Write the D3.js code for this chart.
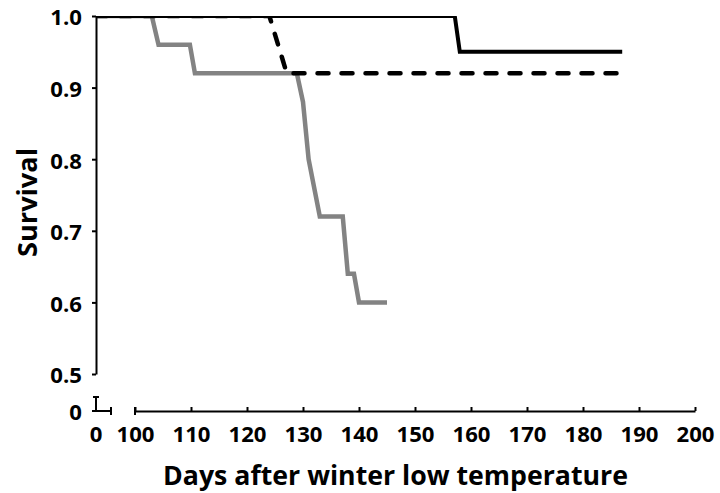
<!DOCTYPE html>
<html lang="en">
  <head>
    <meta charset="UTF-8">
    <script type="text/javascript" src="https://cdn.jsdelivr.net/npm/d3@7"></script>
    <style>
      body { margin: 0; background: #fff; }
      .axis path, .axis line { stroke: #000; stroke-width: 2; }
      .axis text {
        font-family: 'Open Sans', sans-serif;
        font-weight: bold;
        font-size: 20.5px;
        fill: #000;
      }
      .title {
        font-family: 'Open Sans', sans-serif;
        font-weight: bold;
        fill: #000;
      }
    </style>
  </head>
  <body>
    <script type="text/javascript">
      let w = 720;
      let h = 493;

      // Kaplan-Meier style curves: [day, survival]
      let grayDays   = [0, 103, 104.2, 109.8, 110.7, 128.9, 130, 131, 133, 137.1, 138, 139.1, 140, 145];
      let grayVals   = [1, 1, 0.96, 0.96, 0.92, 0.92, 0.88, 0.80, 0.72, 0.72, 0.64, 0.64, 0.60, 0.60];
      let dashDays   = [0, 124, 127.1, 188];
      let dashVals   = [1, 1, 0.92, 0.92];
      let solidDays  = [0, 157.1, 158, 187];
      let solidVals  = [1, 1, 0.95, 0.95];

      let xTicks = [100, 110, 120, 130, 140, 150, 160, 170, 180, 190, 200];
      let yTicks = [0.5, 0.6, 0.7, 0.8, 0.9, 1.0];

      let svg = d3.select('body').append('svg')
                  .attr('width', w)
                  .attr('height', h);

      // main (broken) axes
      let xScale = d3.scaleLinear().domain([100, 200]).range([135, 695]);
      let yScale = d3.scaleLinear().domain([0.5, 1]).range([374, 16]);
      // series scale runs across the break, 0 sits at the axis origin
      let xLine = d3.scaleLinear().domain([0, 100, 200]).range([96, 135, 695]);

      let x0 = 96, yZero = 411;

      // series, clipped to the plot top so the 1.0 lines are half hidden
      svg.append('clipPath').attr('id', 'plot')
        .append('rect').attr('x', 96).attr('y', 16).attr('width', 620).attr('height', 400);

      let line = d3.line().x(d => xLine(d[0])).y(d => yScale(d[1]));
      let zip = (a, b) => a.map((d, i) => [d, b[i]]);

      let g = svg.append('g').attr('clip-path', 'url(#plot)');
      g.append('path').datum(zip(grayDays, grayVals))
        .attr('d', line).attr('fill', 'none')
        .attr('stroke', '#838383').attr('stroke-width', 4.5);
      g.append('path').datum(zip(dashDays, dashVals))
        .attr('d', line).attr('fill', 'none')
        .attr('stroke', '#000').attr('stroke-width', 4.5)
        .attr('stroke-dasharray', '11,13').attr('stroke-linecap', 'round');
      g.append('path').datum(zip(solidDays, solidVals))
        .attr('d', line).attr('fill', 'none')
        .attr('stroke', '#000').attr('stroke-width', 4);

      // x axis, main part
      let xAxis = d3.axisBottom(xScale).tickValues(xTicks)
                    .tickSizeInner(-4).tickSizeOuter(0).tickPadding(16);
      let gx = svg.append('g').attr('class', 'x axis')
                  .attr('transform', 'translate(0,' + yZero + ')')
                  .call(xAxis);
      gx.selectAll('.tick line').attr('y2', -4);
      gx.append('line').attr('x1', 135).attr('x2', 135).attr('y1', -4).attr('y2', 4);

      // y axis, main part
      let yAxis = d3.axisLeft(yScale).tickValues(yTicks)
                    .tickFormat(d3.format('.1f')).tickSizeInner(4).tickSizeOuter(0).tickPadding(10);
      let gy = svg.append('g').attr('class', 'y axis')
          .attr('transform', 'translate(' + x0 + ',0)')
          .call(yAxis);
      gy.selectAll('.tick text').attr('dy', '0.43em');

      // short stubs either side of the break, holding the 0 ticks
      let stub = svg.append('g').attr('class', 'axis');
      stub.append('line').attr('x1', x0).attr('x2', x0).attr('y1', 397).attr('y2', yZero + 1);
      stub.append('line').attr('x1', x0 - 3).attr('x2', x0 + 3).attr('y1', 397).attr('y2', 397);
      stub.append('line').attr('x1', x0 - 4).attr('x2', 111).attr('y1', yZero).attr('y2', yZero);
      stub.append('line').attr('x1', 111).attr('x2', 111).attr('y1', yZero - 4).attr('y2', yZero + 4);
      stub.append('text').attr('x', x0 - 14).attr('y', yZero).attr('dy', '0.43em')
          .attr('text-anchor', 'end').text('0');
      stub.append('text').attr('x', x0).attr('y', yZero + 16).attr('dy', '0.71em')
          .attr('text-anchor', 'middle').text('0');

      // the source picture is stretched sideways, so widen the tick labels a bit
      svg.selectAll('.axis text').each(function() {
        let len = this.getComputedTextLength();
        d3.select(this).attr('textLength', len * 1.08).attr('lengthAdjust', 'spacingAndGlyphs');
      });

      // axis titles
      svg.append('text').attr('class', 'title')
          .attr('x', 163).attr('y', 485)
          .attr('font-size', 26)
          .attr('textLength', 465).attr('lengthAdjust', 'spacingAndGlyphs')
          .text('Days after winter low temperature');
      svg.append('text').attr('class', 'title')
          .attr('transform', 'translate(37,257) rotate(-90)')
          .attr('font-size', 26.5)
          .attr('textLength', 109).attr('lengthAdjust', 'spacingAndGlyphs')
          .text('Survival');
    </script>
  </body>
</html>
